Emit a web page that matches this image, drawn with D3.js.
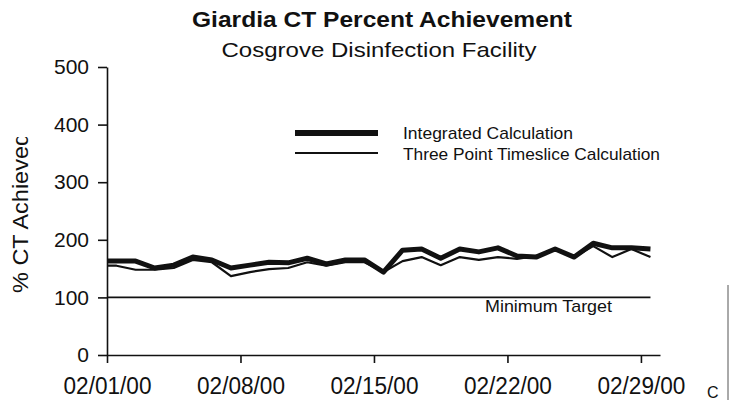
<!DOCTYPE html>
<html>
<head>
<meta charset="utf-8">
<script src="https://cdn.jsdelivr.net/npm/d3@7"></script>
<style>
  body { margin: 0; background: #fff; }
  svg text { font-family: "Liberation Sans", Arial, Helvetica, sans-serif; fill: #111; }
</style>
</head>
<body>
<svg id="chart" width="731" height="400"></svg>
<script>
// daily readings, plotted at midday
var days = ["01/31/00", "02/01/00", "02/02/00", "02/03/00", "02/04/00", "02/05/00", "02/06/00",
    "02/07/00", "02/08/00", "02/09/00", "02/10/00", "02/11/00", "02/12/00", "02/13/00",
    "02/14/00", "02/15/00", "02/16/00", "02/17/00", "02/18/00", "02/19/00", "02/20/00",
    "02/21/00", "02/22/00", "02/23/00", "02/24/00", "02/25/00", "02/26/00", "02/27/00",
    "02/28/00", "02/29/00"];
var integrated = [163, 163, 163, 151, 156, 170, 165, 151, 156, 161, 160, 168, 158, 165,
    165, 144, 182, 184, 168, 184, 179, 186, 172, 170, 184, 170, 194, 186, 186, 184];
var threePoint = [155, 155, 148, 148, 151, 165, 161, 137, 144, 149, 151, 161, 155, 161,
    161, 144, 163, 170, 156, 170, 165, 170, 167, 172, 184, 170, 189, 170, 184, 170];
var xTicks = ["02/01/00", "02/08/00", "02/15/00", "02/22/00", "02/29/00"];
var yTicks = [0, 100, 200, 300, 400, 500];
var target = 100;

var parse = d3.timeParse("%m/%d/%y");
var fmt = d3.timeFormat("%m/%d/%y");

var svg = d3.select("#chart");

var x = d3.scaleTime()
    .domain([parse("02/01/00"), parse("03/01/00")])
    .range([107, 660]);
var y = d3.scaleLinear()
    .domain([0, 500])
    .range([355, 67]);

svg.append("clipPath")
    .attr("id", "plotClip")
    .append("rect")
    .attr("x", 107)
    .attr("y", 0)
    .attr("width", 600)
    .attr("height", 400);

// titles
svg.append("text")
    .attr("x", 382)
    .attr("y", 27)
    .attr("text-anchor", "middle")
    .attr("font-size", "22")
    .attr("font-weight", "bold")
    .attr("textLength", 380)
    .attr("lengthAdjust", "spacingAndGlyphs")
    .text("Giardia CT Percent Achievement");

svg.append("text")
    .attr("x", 379)
    .attr("y", 57)
    .attr("text-anchor", "middle")
    .attr("font-size", "21")
    .attr("textLength", 315)
    .attr("lengthAdjust", "spacingAndGlyphs")
    .text("Cosgrove Disinfection Facility");

// axes
var yAxis = svg.append("g")
    .attr("transform", "translate(107,0)")
    .call(d3.axisLeft(y).tickValues(yTicks).tickSize(9).tickSizeOuter(0).tickPadding(9));
var xAxis = svg.append("g")
    .attr("transform", "translate(0,355)")
    .call(d3.axisBottom(x)
        .tickValues(xTicks.map(parse))
        .tickFormat(fmt)
        .tickSize(8)
        .tickSizeOuter(0)
        .tickPadding(15));

svg.selectAll(".domain, .tick line")
    .attr("stroke", "#111")
    .attr("stroke-width", "1.6");
yAxis.selectAll("text")
    .attr("font-size", "21")
    .attr("fill", "#111");
xAxis.selectAll("text")
    .attr("font-size", "23")
    .attr("fill", "#111")
    .attr("textLength", 88)
    .attr("lengthAdjust", "spacingAndGlyphs");

// y label, cut off at the top like the scan
svg.append("clipPath")
    .attr("id", "labelClip")
    .append("rect")
    .attr("x", 0)
    .attr("y", 137)
    .attr("width", 60)
    .attr("height", 200);

svg.append("g")
    .attr("clip-path", "url(#labelClip)")
    .append("text")
    .attr("transform", "translate(28,293) rotate(-90)")
    .attr("font-size", "22")
    .attr("textLength", 160)
    .attr("lengthAdjust", "spacingAndGlyphs")
    .text("% CT Achieved");

svg.append("text")
    .attr("x", 707)
    .attr("y", 398)
    .attr("font-size", "16")
    .text("C");

// minimum target
svg.append("line")
    .attr("x1", x(parse("02/01/00")))
    .attr("x2", x(d3.timeHour.offset(parse(days[days.length - 1]), 12)))
    .attr("y1", y(target))
    .attr("y2", y(target))
    .attr("stroke", "#111")
    .attr("stroke-width", "1.6");

svg.append("text")
    .attr("x", 485)
    .attr("y", 312)
    .attr("font-size", "17")
    .attr("textLength", 127)
    .attr("lengthAdjust", "spacingAndGlyphs")
    .text("Minimum Target");

// series
var line = d3.line()
    .x(function (d) { return x(d3.timeHour.offset(parse(d.day), 12)); })
    .y(function (d) { return y(d.value); });

var thinData = days.map(function (d, i) { return {day: d, value: threePoint[i]}; });
var thickData = days.map(function (d, i) { return {day: d, value: integrated[i]}; });

svg.append("path")
    .datum(thinData)
    .attr("clip-path", "url(#plotClip)")
    .attr("d", line)
    .attr("fill", "none")
    .attr("stroke", "#111")
    .attr("stroke-width", "2.2")
    .attr("stroke-linejoin", "round");

svg.append("path")
    .datum(thickData)
    .attr("clip-path", "url(#plotClip)")
    .attr("d", line)
    .attr("fill", "none")
    .attr("stroke", "#111")
    .attr("stroke-width", "5")
    .attr("stroke-linejoin", "round");

// legend
svg.append("line")
    .attr("x1", 295).attr("x2", 378)
    .attr("y1", 133).attr("y2", 133)
    .attr("stroke", "#111")
    .attr("stroke-width", "6");
svg.append("line")
    .attr("x1", 295).attr("x2", 378)
    .attr("y1", 153).attr("y2", 153)
    .attr("stroke", "#111")
    .attr("stroke-width", "2");

svg.append("text")
    .attr("x", 403)
    .attr("y", 139)
    .attr("font-size", "17")
    .attr("textLength", 170)
    .attr("lengthAdjust", "spacingAndGlyphs")
    .text("Integrated Calculation");
svg.append("text")
    .attr("x", 403)
    .attr("y", 160)
    .attr("font-size", "17")
    .attr("textLength", 257)
    .attr("lengthAdjust", "spacingAndGlyphs")
    .text("Three Point Timeslice Calculation");

// scan edge on the right
svg.append("line")
    .attr("x1", 728).attr("x2", 728)
    .attr("y1", 285).attr("y2", 400)
    .attr("stroke", "#555")
    .attr("stroke-width", "1");
</script>
</body>
</html>
